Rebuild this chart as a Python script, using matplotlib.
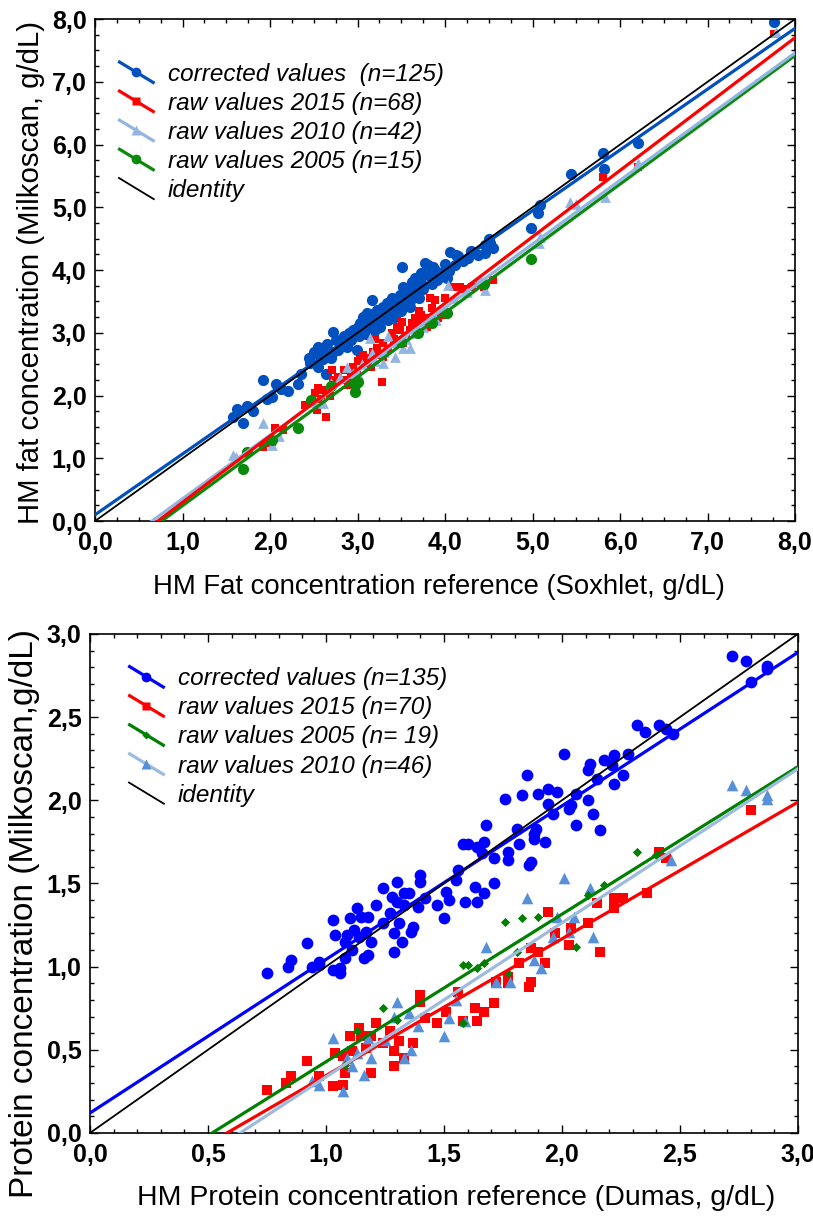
import numpy as np
import matplotlib
matplotlib.use("Agg")
import matplotlib.pyplot as plt
from matplotlib.lines import Line2D
from matplotlib.legend_handler import HandlerBase
from matplotlib.ticker import MultipleLocator, FuncFormatter

plt.rcParams['font.family'] = ['Liberation Sans', 'DejaVu Sans']

# ---------------- FAT panel data (x = Soxhlet, y = Milkoscan) ----------------
fat_corr_x = [1.58, 1.62, 1.69, 1.74, 1.80, 1.92, 1.97, 2.02, 2.07, 2.12, 2.20, 2.32,
              2.35, 2.45, 2.46, 2.50, 2.55, 2.57, 2.60, 2.61, 2.64, 2.55, 2.65, 2.70,
              2.72, 2.72, 2.75, 2.78, 2.82, 2.85, 2.88, 2.90, 2.93, 2.95, 2.99, 3.00,
              3.02, 3.03, 3.05, 3.06, 3.08, 3.10, 3.11, 3.12, 3.15, 3.17, 3.18, 3.18,
              3.20, 3.22, 3.22, 3.25, 3.26, 3.28, 3.29, 3.30, 3.32, 3.34, 3.35, 3.35,
              3.38, 3.39, 3.40, 3.42, 3.43, 3.45, 3.48, 3.50, 3.51, 3.52, 3.54, 3.55,
              3.56, 3.58, 3.60, 3.60, 3.62, 3.63, 3.65, 3.66, 3.69, 3.70, 3.72, 3.73,
              3.75, 3.77, 3.80, 3.81, 3.85, 3.86, 3.88, 3.91, 3.94, 3.95, 4.00, 4.02,
              4.05, 4.06, 4.11, 4.13, 4.15, 4.20, 4.26, 4.30, 4.38, 4.46, 4.46, 4.50,
              4.51, 4.55, 4.98, 5.06, 5.09, 5.44, 5.81, 5.82, 6.20, 7.76]
fat_corr_y = [1.66, 1.79, 1.56, 1.83, 1.75, 2.25, 1.95, 1.98, 2.18, 2.10, 2.08, 2.18,
              2.35, 2.60, 2.52, 2.70, 2.78, 2.62, 2.58, 2.70, 2.34, 2.46, 2.82, 2.60,
              3.01, 2.70, 2.88, 2.72, 2.89, 2.95, 2.78, 3.00, 2.88, 3.05, 2.73, 3.10,
              2.95, 3.16, 3.05, 3.25, 3.18, 2.98, 3.32, 3.22, 3.12, 3.52, 3.20, 3.30,
              3.05, 3.36, 3.15, 3.28, 3.10, 3.40, 3.41, 3.22, 3.35, 3.48, 3.20, 3.30,
              3.45, 3.56, 3.38, 3.50, 3.25, 3.42, 3.60, 3.35, 4.05, 3.73, 3.48, 3.55,
              3.64, 3.70, 3.41, 3.50, 3.81, 3.62, 3.75, 3.87, 3.68, 3.55, 3.95, 3.80,
              3.70, 4.11, 3.92, 4.08, 3.78, 4.05, 4.00, 3.84, 3.89, 3.95, 4.10, 3.87,
              3.98, 4.29, 4.08, 4.24, 4.22, 4.15, 4.19, 4.30, 4.24, 4.27, 4.40, 4.50,
              4.43, 4.35, 4.67, 4.91, 5.04, 5.53, 5.87, 5.61, 6.03, 7.96]

fat_2015_x = [1.92, 1.97, 2.02, 2.06, 2.15, 2.40, 2.51, 2.54, 2.55, 2.58, 2.61, 2.64,
              2.68, 2.71, 2.72, 2.78, 2.83, 2.85, 2.89, 2.92, 2.95, 2.99, 3.00, 3.03,
              3.06, 3.08, 3.12, 3.15, 3.18, 3.20, 3.22, 3.25, 3.28, 3.29, 3.29, 3.35,
              3.39, 3.42, 3.45, 3.49, 3.51, 3.52, 3.55, 3.60, 3.62, 3.66, 3.69, 3.70,
              3.73, 3.77, 3.79, 3.83, 3.85, 3.89, 3.92, 3.96, 4.00, 4.09, 4.17, 4.20,
              4.31, 4.40, 4.45, 4.55, 5.81, 6.20, 7.76]
fat_2015_y = [1.18, 1.24, 1.26, 1.48, 1.45, 1.85, 2.04, 1.77, 2.12, 1.95, 2.09, 1.66,
              2.00, 2.41, 2.25, 2.30, 2.25, 2.40, 2.17, 2.30, 2.46, 2.33, 2.55, 2.57,
              2.65, 2.60, 2.52, 2.45, 2.70, 2.90, 2.76, 2.65, 2.22, 2.62, 2.84, 2.75,
              3.00, 2.90, 3.10, 3.05, 3.17, 2.84, 2.95, 3.05, 3.15, 3.24, 3.16, 3.35,
              3.29, 3.24, 3.10, 3.56, 3.40, 3.52, 3.24, 3.29, 3.55, 3.73, 3.73, 3.70,
              3.73, 3.80, 3.73, 3.84, 5.49, 5.65, 7.77]

fat_2010_x = [1.58, 1.61, 1.92, 2.02, 2.10, 2.50, 2.61, 2.70, 2.80, 2.88, 2.95, 3.00,
              3.05, 3.14, 3.17, 3.20, 3.29, 3.30, 3.35, 3.43, 3.45, 3.52, 3.55, 3.60,
              3.65, 3.75, 3.90, 4.03, 4.10, 4.25, 4.40, 4.46, 5.07, 5.09, 5.43, 5.50,
              5.83, 6.20, 7.78]
fat_2010_y = [1.05, 1.02, 1.56, 1.21, 1.35, 1.90, 1.88, 2.20, 2.30, 2.45, 2.36, 2.35,
              2.50, 2.92, 2.68, 2.55, 2.52, 2.70, 2.95, 2.62, 2.85, 2.76, 2.90, 2.76,
              3.00, 3.10, 3.20, 3.76, 3.55, 3.65, 3.85, 3.68, 4.43, 4.53, 5.09, 5.05,
              5.17, 5.70, 7.80]

fat_2005_x = [1.69, 1.74, 2.02, 2.32, 2.47, 2.70, 2.97, 2.97, 3.00, 3.50, 3.69, 3.85,
              4.02, 4.45, 4.98]
fat_2005_y = [0.83, 1.10, 1.29, 1.48, 1.93, 2.15, 2.06, 2.17, 2.22, 2.85, 3.00, 3.15,
              3.32, 3.78, 4.18]

# regression lines (intercept, slope)
fat_fit = {"corr": (0.10, 0.969), "2015": (-0.76, 1.058),
           "2010": (-0.66, 1.015), "2005": (-0.78, 1.025)}

# ---------------- PROTEIN panel data (x = Dumas, y = Milkoscan) ----------------
prot_corr_x = [0.75, 0.84, 0.85, 0.92, 0.94, 0.97, 0.97, 1.03, 1.03, 1.04, 1.06, 1.06,
               1.08, 1.08, 1.09, 1.10, 1.11, 1.12, 1.13, 1.14, 1.15, 1.16, 1.17, 1.18,
               1.18, 1.19, 1.21, 1.24, 1.24, 1.27, 1.28, 1.29, 1.29, 1.30, 1.30, 1.31,
               1.32, 1.33, 1.33, 1.35, 1.36, 1.37, 1.39, 1.40, 1.40, 1.42, 1.47, 1.50,
               1.51, 1.52, 1.55, 1.56, 1.58, 1.59, 1.60, 1.63, 1.64, 1.64, 1.66, 1.67,
               1.67, 1.68, 1.71, 1.71, 1.76, 1.77, 1.77, 1.81, 1.82, 1.83, 1.85, 1.86,
               1.87, 1.88, 1.88, 1.89, 1.90, 1.93, 1.94, 1.94, 1.96, 1.98, 2.01, 2.03,
               2.04, 2.06, 2.06, 2.11, 2.11, 2.12, 2.13, 2.15, 2.16, 2.18, 2.21, 2.22,
               2.22, 2.26, 2.28, 2.32, 2.35, 2.41, 2.44, 2.47, 2.72, 2.78, 2.80, 2.87,
               2.87]
prot_corr_y = [0.96, 1.00, 1.04, 1.14, 1.00, 1.03, 1.01, 0.98, 1.28, 1.19, 0.99, 0.96,
               1.05, 1.15, 1.19, 1.29, 1.10, 1.22, 1.35, 1.18, 1.30, 1.05, 1.21, 1.07,
               1.30, 1.15, 1.37, 1.47, 1.26, 1.32, 1.42, 1.20, 1.09, 1.51, 1.39, 1.26,
               1.15, 1.37, 1.44, 1.44, 1.21, 1.24, 1.36, 1.55, 1.51, 1.41, 1.37, 1.29,
               1.45, 1.40, 1.52, 1.58, 1.74, 1.39, 1.74, 1.48, 1.72, 1.39, 1.68, 1.44,
               1.75, 1.85, 1.50, 1.65, 2.01, 1.69, 1.64, 1.83, 1.74, 2.03, 2.15, 1.61,
               1.63, 1.77, 1.80, 1.83, 2.04, 1.75, 1.98, 2.07, 1.92, 2.05, 2.28, 1.95,
               1.97, 1.85, 2.04, 2.00, 2.18, 2.22, 1.92, 2.13, 1.82, 2.24, 2.21, 2.27,
               2.10, 2.15, 2.28, 2.45, 2.41, 2.45, 2.43, 2.40, 2.87, 2.84, 2.71, 2.81,
               2.79]

prot_2015_x = [0.75, 0.83, 0.85, 0.92, 0.97, 1.03, 1.04, 1.07, 1.07, 1.08, 1.10, 1.11,
               1.14, 1.15, 1.17, 1.19, 1.19, 1.21, 1.24, 1.27, 1.29, 1.29, 1.31, 1.33,
               1.37, 1.40, 1.40, 1.42, 1.47, 1.51, 1.56, 1.58, 1.63, 1.64, 1.67, 1.71,
               1.72, 1.77, 1.77, 1.82, 1.86, 1.87, 1.87, 1.90, 1.93, 1.94, 1.97, 2.03,
               2.04, 2.11, 2.15, 2.16, 2.22, 2.22, 2.26, 2.36, 2.41, 2.44, 2.80]
prot_2015_y = [0.26, 0.30, 0.34, 0.43, 0.34, 0.28, 0.48, 0.29, 0.46, 0.36, 0.58, 0.49,
               0.63, 0.58, 0.51, 0.58, 0.36, 0.66, 0.54, 0.61, 0.49, 0.40, 0.55, 0.45,
               0.54, 0.83, 0.79, 0.69, 0.66, 0.73, 0.85, 0.67, 0.75, 0.67, 0.73, 0.78,
               0.91, 0.90, 0.94, 1.02, 0.88, 0.91, 1.11, 1.09, 1.02, 1.33, 1.20, 1.13,
               1.23, 1.26, 1.38, 1.09, 1.41, 1.35, 1.41, 1.44, 1.69, 1.65, 1.94]

prot_2005_x = [1.08, 1.13, 1.24, 1.30, 1.58, 1.58, 1.60, 1.64, 1.67, 1.76, 1.77, 1.81,
               1.83, 1.90, 2.06, 2.11, 2.18, 2.32, 2.40]
prot_2005_y = [0.41, 0.61, 0.75, 0.68, 0.66, 1.01, 1.01, 0.99, 1.02, 1.27, 0.96, 1.09,
               1.29, 1.30, 1.12, 1.43, 1.49, 1.69, 1.67]

prot_2010_x = [0.94, 0.97, 1.03, 1.07, 1.09, 1.11, 1.13, 1.16, 1.18, 1.19, 1.25, 1.29,
               1.30, 1.33, 1.35, 1.36, 1.39, 1.50, 1.52, 1.55, 1.59, 1.68, 1.72, 1.78,
               1.85, 1.88, 1.91, 1.96, 1.98, 2.01, 2.03, 2.05, 2.12, 2.13, 2.46, 2.72,
               2.78, 2.87, 2.87]
prot_2010_y = [0.31, 0.29, 0.57, 0.25, 0.45, 0.40, 0.48, 0.35, 0.57, 0.45, 0.56, 0.70,
               0.79, 0.45, 0.72, 0.50, 0.64, 0.58, 0.69, 0.80, 0.67, 1.12, 0.91, 0.91,
               1.41, 1.04, 0.99, 1.18, 1.30, 1.53, 1.21, 1.30, 1.47, 1.18, 1.64, 2.09,
               2.06, 2.03, 2.01]

prot_fit = {"corr": (0.12, 0.923), "2015": (-0.477, 0.822),
            "2005": (-0.459, 0.887), "2010": (-0.589, 0.926)}


def comma(v, pos):
    return f"{v:.1f}".replace(".", ",")


class DiagHandler(HandlerBase):
    # Statistica-like legend key: a slanted line with the marker in the middle
    def create_artists(self, legend, orig_handle, xdescent, ydescent,
                       width, height, fontsize, trans):
        x0, x1 = -xdescent, -xdescent + width
        y0, y1 = -ydescent + height * 1.15, -ydescent - height * 0.15
        ln = Line2D([x0, x1], [y0, y1], color=orig_handle.get_color(),
                    lw=orig_handle.get_linewidth(), solid_capstyle="butt")
        ln.set_transform(trans)
        arts = [ln]
        if orig_handle.get_marker() not in (None, "None", "", " "):
            mk = Line2D([(x0 + x1) / 2], [(y0 + y1) / 2], marker=orig_handle.get_marker(),
                        ms=orig_handle.get_markersize(), linestyle="none",
                        color=orig_handle.get_markerfacecolor(), mec="none")
            mk.set_transform(trans)
            arts.append(mk)
        return arts


def style_axes(ax, lim, major, minor):
    ax.set_xlim(0, lim)
    ax.set_ylim(0, lim)
    for a in (ax.xaxis, ax.yaxis):
        a.set_major_locator(MultipleLocator(major))
        a.set_minor_locator(MultipleLocator(minor))
        a.set_major_formatter(FuncFormatter(comma))
    ax.tick_params(which="both", direction="in", top=True, right=True, width=1.0)
    ax.tick_params(which="major", length=6)
    ax.tick_params(which="minor", length=3)
    ax.tick_params(axis="x", which="major", pad=7)
    ax.tick_params(axis="y", which="major", pad=6)
    for lab in ax.get_xticklabels() + ax.get_yticklabels():
        lab.set_fontweight("bold")
        lab.set_fontsize(18)
    for s in ax.spines.values():
        s.set_linewidth(1.2)


fig = plt.figure(figsize=(8.13, 12.16), dpi=100)

# ======================= top: fat =======================
ax1 = fig.add_axes([0.1169, 0.5715, 0.861, 0.4128])
c_corr, c_2015, c_2010, c_2005 = "#0050c0", "#ff0000", "#93b5e1", "#0a8a0a"
ax1.scatter(fat_corr_x, fat_corr_y, s=65, color=c_corr, lw=0, zorder=2)
ax1.scatter(fat_2015_x, fat_2015_y, s=40, marker="s", color=c_2015, lw=0, zorder=2)
ax1.scatter(fat_2010_x, fat_2010_y, s=60, marker="^", color=c_2010, lw=0, zorder=2)
ax1.scatter(fat_2005_x, fat_2005_y, s=65, color=c_2005, lw=0, zorder=2)

xx = np.array([0.0, 8.0])
ax1.plot(xx, xx, color="black", lw=1.3, zorder=4)
for key, col in [("2005", c_2005), ("2010", c_2010), ("2015", c_2015), ("corr", c_corr)]:
    b, m = fat_fit[key]
    ax1.plot(xx, b + m * xx, color=col, lw=2.3, zorder=3)

style_axes(ax1, 8, 1, 0.25)
ax1.set_xlabel("HM Fat concentration reference (Soxhlet, g/dL)", fontsize=19.8)
ax1.set_ylabel("HM fat concentration (Milkoscan, g/dL)", fontsize=21.2)
ax1.xaxis.set_label_coords(0.492, -0.105)
ax1.yaxis.set_label_coords(-0.072, 0.496)

h1 = [Line2D([], [], color=c_corr, lw=2.3, marker="o", ms=7, mfc=c_corr),
      Line2D([], [], color=c_2015, lw=2.3, marker="s", ms=6, mfc=c_2015),
      Line2D([], [], color=c_2010, lw=2.3, marker="^", ms=7, mfc=c_2010),
      Line2D([], [], color=c_2005, lw=2.3, marker="o", ms=7, mfc=c_2005),
      Line2D([], [], color="black", lw=1.3)]
l1 = ["corrected values  (n=125)", "raw values 2015 (n=68)", "raw values 2010 (n=42)",
      "raw values 2005 (n=15)", "identity"]
ax1.legend(h1, l1, loc="upper left", bbox_to_anchor=(0.033, 0.913), frameon=False,
           borderpad=0, borderaxespad=0, handlelength=1.5, handletextpad=0.55,
           labelspacing=0.25, prop={"style": "italic", "size": 17.5},
           handler_map={Line2D: DiagHandler()})

# ======================= bottom: protein =======================
ax2 = fig.add_axes([0.1107, 0.0683, 0.8708, 0.4104])
p_corr, p_2015, p_2005, p_2010m, p_2010l = "#0000ff", "#ff0000", "#008000", "#5590d8", "#9cbbdf"
ax2.scatter(prot_corr_x, prot_corr_y, s=72, color=p_corr, lw=0, zorder=2)
ax2.scatter(prot_2015_x, prot_2015_y, s=42, marker="s", color=p_2015, lw=0, zorder=2)
ax2.scatter(prot_2010_x, prot_2010_y, s=70, marker="^", color=p_2010m, lw=0, zorder=2)
ax2.scatter(prot_2005_x, prot_2005_y, s=22, marker="D", color=p_2005, lw=0, zorder=2)

xx = np.array([0.0, 3.0])
ax2.plot(xx, xx, color="black", lw=1.3, zorder=4)
for key, col in [("2015", p_2015), ("2005", p_2005), ("2010", p_2010l), ("corr", p_corr)]:
    b, m = prot_fit[key]
    ax2.plot(xx, b + m * xx, color=col, lw=2.3, zorder=3)

style_axes(ax2, 3, 0.5, 0.1)
ax2.set_xlabel("HM Protein concentration reference (Dumas, g/dL)", fontsize=20.5)
ax2.set_ylabel("Protein concentration (Milkoscan,g/dL)", fontsize=24)
ax2.xaxis.set_label_coords(0.517, -0.105)
ax2.yaxis.set_label_coords(-0.07, 0.44)

h2 = [Line2D([], [], color=p_corr, lw=2.3, marker="o", ms=7, mfc=p_corr),
      Line2D([], [], color=p_2015, lw=2.3, marker="s", ms=6, mfc=p_2015),
      Line2D([], [], color=p_2005, lw=2.3, marker="D", ms=4, mfc=p_2005),
      Line2D([], [], color=p_2010l, lw=2.3, marker="^", ms=7, mfc=p_2010m),
      Line2D([], [], color="black", lw=1.3)]
l2 = ["corrected values (n=135)", "raw values 2015 (n=70)", "raw values 2005 (n= 19)",
      "raw values 2010 (n=46)", "identity"]
ax2.legend(h2, l2, loc="upper left", bbox_to_anchor=(0.054, 0.933), frameon=False,
           borderpad=0, borderaxespad=0, handlelength=1.5, handletextpad=0.55,
           labelspacing=0.25, prop={"style": "italic", "size": 17.5},
           handler_map={Line2D: DiagHandler()})

fig.savefig("out.png", dpi=100)
